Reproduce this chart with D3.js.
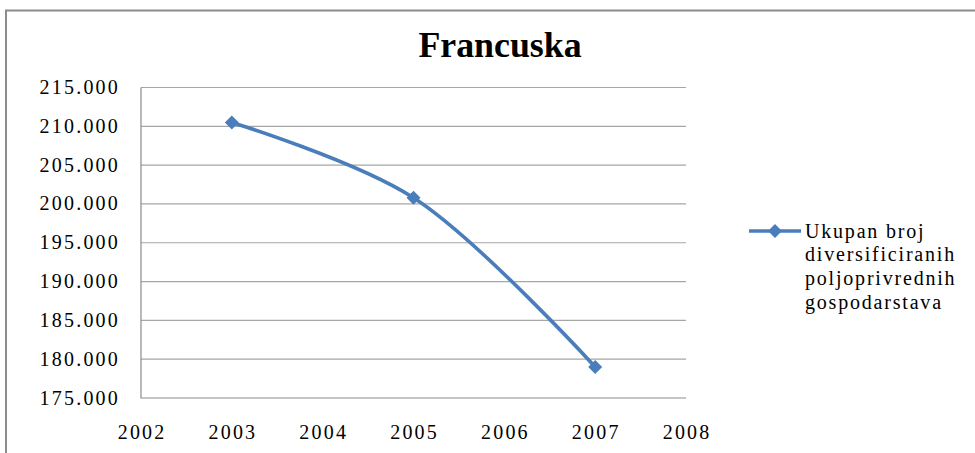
<!DOCTYPE html>
<meta charset="utf-8">
<html>
  <head>
    <style>
      body { margin: 0; background: #fff; }
      text { font-family: "Liberation Serif", "Times New Roman", serif; fill: #000; }
      text.title { font-weight: bold; font-size: 32px; }
      text.tick { font-size: 20px; letter-spacing: 2.2px; }
      text.legend { font-size: 20px; letter-spacing: 1.8px; }
      .grid line { stroke: #a6a6a6; stroke-width: 1.2px; }
    </style>
    <script src="https://d3js.org/d3.v7.min.js"></script>
  </head>
  <body>
    <script>

      var width = 975,
          height = 453;

      // data
      var years = [2003, 2005, 2007];
      var values = [210.5, 200.8, 179.0];
      var yTicks = [175, 180, 185, 190, 195, 200, 205, 210, 215];
      var xTicks = [2002, 2003, 2004, 2005, 2006, 2007, 2008];
      var seriesName = ["Ukupan broj", "diversificiranih", "poljoprivrednih", "gospodarstava"];
      var title = "Francuska";

      var svg = d3.select('body').append('svg')
          .attr('width', width)
          .attr('height', height);

      // outer frame
      svg.append("path")
          .attr("d", "M6," + height + "V10.5H" + width)
          .attr("fill", "none")
          .attr("stroke", "#8c8c8c")
          .attr("stroke-width", 2);

      var pLeft = 141, pRight = 686, pTop = 87.5, pBottom = 398;

      var x = d3.scaleLinear().domain([2002, 2008]).range([pLeft, pRight]);
      var y = d3.scaleLinear().domain([175, 215]).range([pBottom, pTop]);

      // gridlines
      svg.append("g")
          .attr("class", "grid")
          .selectAll("line")
          .data(yTicks.filter(function(d) { return d > 175; }))
          .enter().append("line")
          .attr("x1", pLeft)
          .attr("x2", pRight)
          .attr("y1", function(d) { return y(d); })
          .attr("y2", function(d) { return y(d); });

      // axis lines
      svg.append("path")
          .attr("d", "M" + pLeft + "," + pTop + "V" + pBottom + "H" + pRight)
          .attr("fill", "none")
          .attr("stroke", "#8c8c8c")
          .attr("stroke-width", 1.2);

      var fmt = function(d) { return d + ".000"; };

      svg.selectAll(".ylab")
          .data(yTicks)
          .enter().append("text")
          .attr("class", "tick ylab")
          .attr("x", 120)
          .attr("y", function(d) { return y(d) + 6.5; })
          .style("text-anchor", "end")
          .text(fmt);

      svg.selectAll(".xlab")
          .data(xTicks)
          .enter().append("text")
          .attr("class", "tick xlab")
          .attr("x", function(d) { return x(d) + 1.1; })
          .attr("y", 439)
          .style("text-anchor", "middle")
          .text(function(d) { return d; });

      svg.append("text")
          .attr("class", "title")
          .attr("x", 500)
          .attr("y", 57)
          .style("text-anchor", "middle")
          .attr("transform", "translate(500,57) scale(1.12,1.12) translate(-500,-57)")
          .text(title);

      var pts = years.map(function(d, i) { return [x(d), y(values[i])]; });

      var line = d3.line().curve(d3.curveCatmullRom.alpha(0.5));

      svg.append("path")
          .attr("d", line(pts))
          .attr("fill", "none")
          .attr("stroke", "#4a7ebb")
          .attr("stroke-width", 3.6);

      var diamond = d3.symbol().type(d3.symbolDiamond2).size(125);

      svg.selectAll(".pt")
          .data(pts)
          .enter().append("path")
          .attr("class", "pt")
          .attr("transform", function(d) { return "translate(" + d[0] + "," + d[1] + ")"; })
          .attr("d", diamond)
          .attr("fill", "#4a7ebb");

      // legend
      var lg = svg.append("g").attr("transform", "translate(749,231)");
      lg.append("line")
          .attr("x1", 0).attr("x2", 52)
          .attr("stroke", "#4a7ebb")
          .attr("stroke-width", 3.6);
      lg.append("path")
          .attr("transform", "translate(26,0)")
          .attr("d", diamond)
          .attr("fill", "#4a7ebb");

      lg.selectAll("text")
          .data(seriesName)
          .enter().append("text")
          .attr("class", "legend")
          .attr("x", 56)
          .attr("y", function(d, i) { return 6.5 + i * 23.8; })
          .text(function(d) { return d; });

    </script>
  </body>
</html>
